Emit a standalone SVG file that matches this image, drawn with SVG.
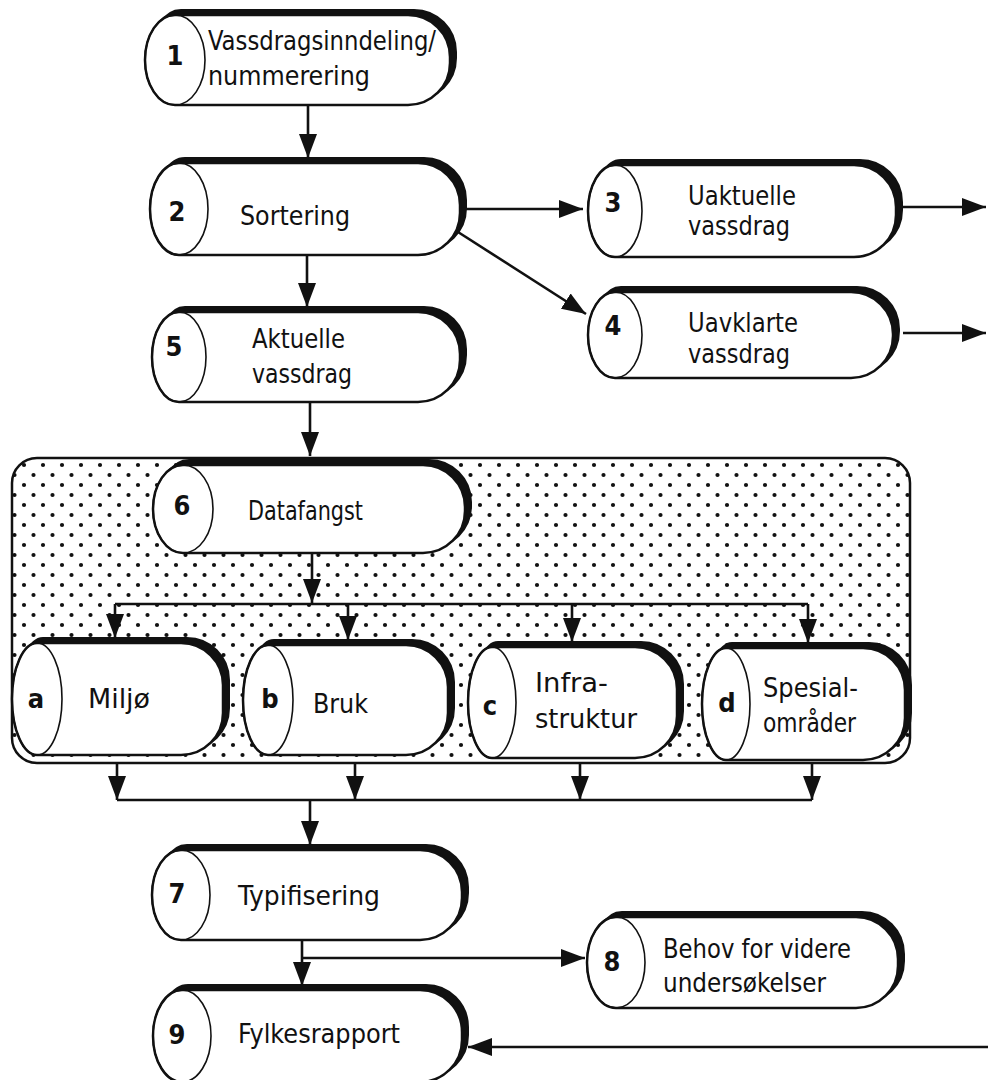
<svg xmlns="http://www.w3.org/2000/svg" width="988" height="1080" viewBox="0 0 988 1080">
<defs>
<style>
.shadow{fill:#111;stroke:#111;stroke-width:2}
.body{fill:#fff;stroke:#111;stroke-width:2.5}
.cap{fill:none;stroke:#111;stroke-width:1.6}
.lbl{font-family:"DejaVu Sans Condensed","DejaVu Sans",sans-serif;font-size:27px;fill:#111}
.num{font-family:"DejaVu Sans Condensed","DejaVu Sans",sans-serif;font-size:27px;font-weight:bold;fill:#111;text-anchor:middle}
.conn{fill:none;stroke:#111;stroke-width:2.6}
.arr{marker-end:url(#ah)}
</style>
<marker id="ah" viewBox="0 0 24 18" refX="24" refY="9" markerWidth="24" markerHeight="18" markerUnits="userSpaceOnUse" orient="auto">
<path d="M0,0 L24,9 L0,18 Z" fill="#111"/>
</marker>
<pattern id="dots" width="19" height="20" patternUnits="userSpaceOnUse">
<circle cx="5" cy="5" r="2.1" fill="#111"/>
<circle cx="14.5" cy="15" r="2.1" fill="#111"/>
</pattern>
</defs>
<rect width="988" height="1080" fill="#fff"/>

<g id="region6">
<rect x="12" y="458" width="898" height="305" rx="25" fill="url(#dots)" stroke="#111" stroke-width="2.5"/>
</g>

<g id="n1">
<path class="shadow" transform="translate(6,-5)" d="M175,15 H408 A42,42 0 0 1 450,57 V63 A42,42 0 0 1 408,105 H175 A30,45 0 0 1 175,15 Z"/>
<path class="body" d="M175,15 H408 A42,42 0 0 1 450,57 V63 A42,42 0 0 1 408,105 H175 A30,45 0 0 1 175,15 Z"/>
<ellipse class="cap" cx="175" cy="60" rx="30" ry="45"/>
<text class="num" x="175" y="65">1</text>
<text class="lbl" x="208" y="50" textLength="228" lengthAdjust="spacingAndGlyphs">Vassdragsinndeling/</text>
<text class="lbl" x="208" y="85" textLength="162" lengthAdjust="spacingAndGlyphs">nummerering</text>
</g>

<g id="n2">
<path class="shadow" transform="translate(6,-5)" d="M179,163 H418 A42,42 0 0 1 460,205 V213 A42,42 0 0 1 418,255 H179 A29,46 0 0 1 179,163 Z"/>
<path class="body" d="M179,163 H418 A42,42 0 0 1 460,205 V213 A42,42 0 0 1 418,255 H179 A29,46 0 0 1 179,163 Z"/>
<ellipse class="cap" cx="179" cy="209" rx="29" ry="46"/>
<text class="num" x="177" y="221">2</text>
<text class="lbl" x="240" y="225" textLength="110" lengthAdjust="spacingAndGlyphs">Sortering</text>
</g>

<g id="n3">
<path class="shadow" transform="translate(6,-5)" d="M615,165 H854 A42,42 0 0 1 896,207 V215 A42,42 0 0 1 854,257 H615 A27,46 0 0 1 615,165 Z"/>
<path class="body" d="M615,165 H854 A42,42 0 0 1 896,207 V215 A42,42 0 0 1 854,257 H615 A27,46 0 0 1 615,165 Z"/>
<ellipse class="cap" cx="615" cy="211" rx="27" ry="46"/>
<text class="num" x="613" y="212">3</text>
<text class="lbl" x="688" y="205" textLength="108" lengthAdjust="spacingAndGlyphs">Uaktuelle</text>
<text class="lbl" x="688" y="235" textLength="102" lengthAdjust="spacingAndGlyphs">vassdrag</text>
</g>

<g id="n4">
<path class="shadow" transform="translate(6,-5)" d="M615,292 H851 A42,42 0 0 1 893,334 V336 A42,42 0 0 1 851,378 H615 A27,43 0 0 1 615,292 Z"/>
<path class="body" d="M615,292 H851 A42,42 0 0 1 893,334 V336 A42,42 0 0 1 851,378 H615 A27,43 0 0 1 615,292 Z"/>
<ellipse class="cap" cx="615" cy="335" rx="27" ry="43"/>
<text class="num" x="613" y="335">4</text>
<text class="lbl" x="688" y="332" textLength="110" lengthAdjust="spacingAndGlyphs">Uavklarte</text>
<text class="lbl" x="688" y="363" textLength="102" lengthAdjust="spacingAndGlyphs">vassdrag</text>
</g>

<g id="n5">
<path class="shadow" transform="translate(6,-5)" d="M179,312 H418 A42,42 0 0 1 460,354 V360 A42,42 0 0 1 418,402 H179 A27,45 0 0 1 179,312 Z"/>
<path class="body" d="M179,312 H418 A42,42 0 0 1 460,354 V360 A42,42 0 0 1 418,402 H179 A27,45 0 0 1 179,312 Z"/>
<ellipse class="cap" cx="179" cy="357" rx="27" ry="45"/>
<text class="num" x="174" y="356">5</text>
<text class="lbl" x="252" y="348" textLength="93" lengthAdjust="spacingAndGlyphs">Aktuelle</text>
<text class="lbl" x="252" y="383" textLength="100" lengthAdjust="spacingAndGlyphs">vassdrag</text>
</g>

<g id="n6">
<path class="shadow" transform="translate(6,-5)" d="M183,465 H423 A42,42 0 0 1 465,507 V511 A42,42 0 0 1 423,553 H183 A30,44 0 0 1 183,465 Z"/>
<path class="body" d="M183,465 H423 A42,42 0 0 1 465,507 V511 A42,42 0 0 1 423,553 H183 A30,44 0 0 1 183,465 Z"/>
<ellipse class="cap" cx="183" cy="509" rx="30" ry="44"/>
<text class="num" x="182" y="515">6</text>
<text class="lbl" x="248" y="520" textLength="115" lengthAdjust="spacingAndGlyphs">Datafangst</text>
</g>

<g id="na">
<path class="shadow" transform="translate(6,-5)" d="M37,643 H181 A42,42 0 0 1 223,685 V713 A42,42 0 0 1 181,755 H37 A25,56 0 0 1 37,643 Z"/>
<path class="body" d="M37,643 H181 A42,42 0 0 1 223,685 V713 A42,42 0 0 1 181,755 H37 A25,56 0 0 1 37,643 Z"/>
<ellipse class="cap" cx="37" cy="699" rx="25" ry="56"/>
<text class="num" x="36" y="708">a</text>
<text class="lbl" x="88" y="708" textLength="62" lengthAdjust="spacingAndGlyphs">Miljø</text>
</g>

<g id="nb">
<path class="shadow" transform="translate(6,-5)" d="M268,645 H406 A42,42 0 0 1 448,687 V713 A42,42 0 0 1 406,755 H268 A25,55 0 0 1 268,645 Z"/>
<path class="body" d="M268,645 H406 A42,42 0 0 1 448,687 V713 A42,42 0 0 1 406,755 H268 A25,55 0 0 1 268,645 Z"/>
<ellipse class="cap" cx="268" cy="700" rx="25" ry="55"/>
<text class="num" x="270" y="708">b</text>
<text class="lbl" x="313" y="713" textLength="55" lengthAdjust="spacingAndGlyphs">Bruk</text>
</g>

<g id="nc">
<path class="shadow" transform="translate(6,-5)" d="M492,647 H635 A42,42 0 0 1 677,689 V716 A42,42 0 0 1 635,758 H492 A24,55.5 0 0 1 492,647 Z"/>
<path class="body" d="M492,647 H635 A42,42 0 0 1 677,689 V716 A42,42 0 0 1 635,758 H492 A24,55.5 0 0 1 492,647 Z"/>
<ellipse class="cap" cx="492" cy="702.5" rx="24" ry="55.5"/>
<text class="num" x="490" y="715">c</text>
<text class="lbl" x="535" y="692" textLength="73" lengthAdjust="spacingAndGlyphs">Infra-</text>
<text class="lbl" x="535" y="728" textLength="102" lengthAdjust="spacingAndGlyphs">struktur</text>
</g>

<g id="nd">
<path class="shadow" transform="translate(6,-5)" d="M726,648 H863 A42,42 0 0 1 905,690 V718 A42,42 0 0 1 863,760 H726 A24,56 0 0 1 726,648 Z"/>
<path class="body" d="M726,648 H863 A42,42 0 0 1 905,690 V718 A42,42 0 0 1 863,760 H726 A24,56 0 0 1 726,648 Z"/>
<ellipse class="cap" cx="726" cy="704" rx="24" ry="56"/>
<text class="num" x="727" y="712">d</text>
<text class="lbl" x="763" y="697" textLength="95" lengthAdjust="spacingAndGlyphs">Spesial-</text>
<text class="lbl" x="763" y="732" textLength="93" lengthAdjust="spacingAndGlyphs">områder</text>
</g>

<g id="n7">
<path class="shadow" transform="translate(6,-5)" d="M181,850 H420 A42,42 0 0 1 462,892 V898 A42,42 0 0 1 420,940 H181 A29,45 0 0 1 181,850 Z"/>
<path class="body" d="M181,850 H420 A42,42 0 0 1 462,892 V898 A42,42 0 0 1 420,940 H181 A29,45 0 0 1 181,850 Z"/>
<ellipse class="cap" cx="181" cy="895" rx="29" ry="45"/>
<text class="num" x="177" y="903">7</text>
<text class="lbl" x="238" y="905" textLength="142" lengthAdjust="spacingAndGlyphs">Typifisering</text>
</g>

<g id="n8">
<path class="shadow" transform="translate(6,-5)" d="M616,917 H856 A42,42 0 0 1 898,959 V966 A42,42 0 0 1 856,1008 H616 A29,45.5 0 0 1 616,917 Z"/>
<path class="body" d="M616,917 H856 A42,42 0 0 1 898,959 V966 A42,42 0 0 1 856,1008 H616 A29,45.5 0 0 1 616,917 Z"/>
<ellipse class="cap" cx="616" cy="962.5" rx="29" ry="45.5"/>
<text class="num" x="612" y="971">8</text>
<text class="lbl" x="663" y="958" textLength="188" lengthAdjust="spacingAndGlyphs">Behov for videre</text>
<text class="lbl" x="663" y="992" textLength="163" lengthAdjust="spacingAndGlyphs">undersøkelser</text>
</g>

<g id="n9">
<path class="shadow" transform="translate(6,-5)" d="M182,990 H420 A42,42 0 0 1 462,1032 V1040 A42,42 0 0 1 420,1082 H182 A29,46 0 0 1 182,990 Z"/>
<path class="body" d="M182,990 H420 A42,42 0 0 1 462,1032 V1040 A42,42 0 0 1 420,1082 H182 A29,46 0 0 1 182,990 Z"/>
<ellipse class="cap" cx="182" cy="1036" rx="29" ry="46"/>
<text class="num" x="177" y="1044">9</text>
<text class="lbl" x="238" y="1043" textLength="162" lengthAdjust="spacingAndGlyphs">Fylkesrapport</text>
</g>

<g id="connectors">
<path class="conn arr" d="M308,105 V158"/>
<path class="conn arr" d="M462,209 H583"/>
<path class="conn arr" d="M458,232 L586,314"/>
<path class="conn arr" d="M902,207 H986"/>
<path class="conn arr" d="M903,333 H986"/>
<path class="conn arr" d="M307,255 V307"/>
<path class="conn arr" d="M310,402 V456"/>
<path class="conn arr" d="M312,553 V603"/>
<path class="conn" d="M115,604 H808"/>
<path class="conn arr" d="M115,604 V638"/>
<path class="conn arr" d="M348,604 V640"/>
<path class="conn arr" d="M572,604 V642"/>
<path class="conn arr" d="M808,604 V643"/>
<path class="conn arr" d="M117,762 V800"/>
<path class="conn arr" d="M355,762 V800"/>
<path class="conn arr" d="M580,762 V800"/>
<path class="conn arr" d="M812,762 V800"/>
<path class="conn" d="M117,800 H812"/>
<path class="conn arr" d="M310,800 V845"/>
<path class="conn arr" d="M302,940 V986"/>
<path class="conn arr" d="M302,958 H585"/>
<path class="conn arr" d="M988,1047 H468"/>
</g>
</svg>
